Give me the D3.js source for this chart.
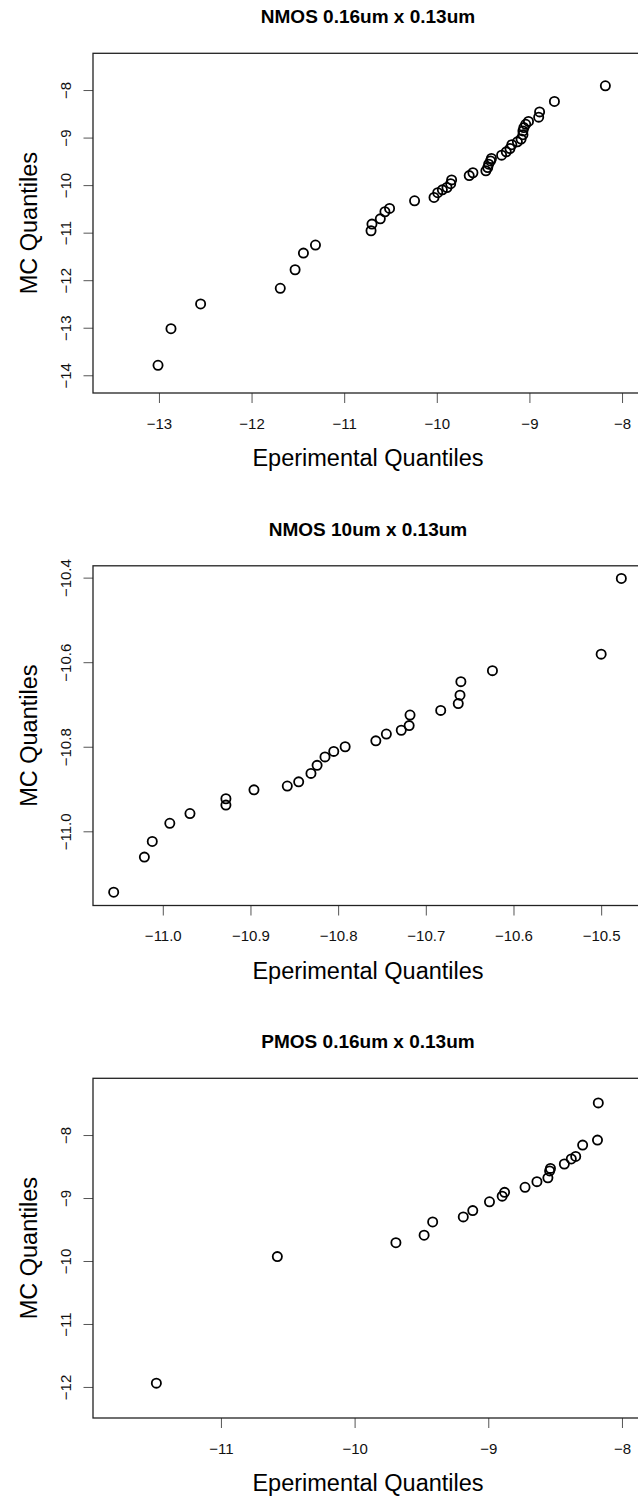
<!DOCTYPE html>
<html>
<head>
<meta charset="UTF-8">
<script src="https://d3js.org/d3.v7.min.js"></script>
<style>
  body { margin: 0; background: #fff; }
  svg { display: block; font-family: "Liberation Sans", Arial, sans-serif; }
</style>
</head>
<body>
<svg></svg>
<script>
// panel titles
const titles = ["NMOS 0.16um x 0.13um", "NMOS 10um x 0.13um", "PMOS 0.16um x 0.13um"];

// NMOS 0.16um x 0.13um : experimental vs MC quantiles
const nmos016X = [-13.01, -12.87, -12.55, -11.69, -11.53, -11.44, -11.31, -10.71, -10.70, -10.61,
  -10.56, -10.51, -10.24, -10.03, -9.99, -9.94, -9.89, -9.85, -9.84, -9.65,
  -9.61, -9.47, -9.45, -9.44, -9.42, -9.41, -9.30, -9.25, -9.21, -9.19,
  -9.13, -9.09, -9.07, -9.07, -9.06, -9.04, -9.01, -8.90, -8.89, -8.73, -8.18];
const nmos016Y = [-13.79, -13.02, -12.50, -12.17, -11.78, -11.43, -11.26, -10.96, -10.82, -10.71,
  -10.56, -10.49, -10.33, -10.26, -10.16, -10.10, -10.05, -9.97, -9.89, -9.80,
  -9.74, -9.70, -9.63, -9.56, -9.49, -9.44, -9.37, -9.30, -9.23, -9.15,
  -9.09, -9.03, -8.94, -8.86, -8.79, -8.72, -8.66, -8.57, -8.46, -8.24, -7.91];

// NMOS 10um x 0.13um
const nmos10X = [-11.056, -11.021, -11.012, -10.992, -10.969, -10.928, -10.928, -10.896, -10.858, -10.845,
  -10.831, -10.824, -10.815, -10.805, -10.792, -10.757, -10.745, -10.728, -10.719, -10.718,
  -10.683, -10.663, -10.661, -10.660, -10.624, -10.500, -10.477];
const nmos10Y = [-11.144, -11.061, -11.024, -10.981, -10.958, -10.923, -10.938, -10.902, -10.893, -10.883,
  -10.863, -10.844, -10.824, -10.811, -10.800, -10.786, -10.770, -10.761, -10.750, -10.725,
  -10.714, -10.698, -10.678, -10.646, -10.620, -10.581, -10.402];

// PMOS 0.16um x 0.13um
const pmos016X = [-11.483, -10.578, -9.691, -9.480, -9.416, -9.187, -9.116, -8.991, -8.896, -8.878,
  -8.725, -8.636, -8.554, -8.541, -8.535, -8.431, -8.379, -8.346, -8.294, -8.183, -8.177];
const pmos016Y = [-11.94, -9.93, -9.71, -9.59, -9.38, -9.30, -9.20, -9.06, -8.97, -8.91,
  -8.83, -8.74, -8.68, -8.57, -8.53, -8.46, -8.38, -8.34, -8.16, -8.08, -7.49];

// axis ticks
const xTicks = [[-13, -12, -11, -10, -9, -8], [-11.0, -10.9, -10.8, -10.7, -10.6, -10.5], [-11, -10, -9, -8]];
const yTicks = [[-14, -13, -12, -11, -10, -9, -8], [-11.0, -10.8, -10.6, -10.4], [-12, -11, -10, -9, -8]];
const xDomains = [[-13.712, -7.806], [-11.0796, -10.4557], [-11.957, -7.865]];
const yDomains = [[-14.373, -7.227], [-11.1755, -10.372], [-12.493, -7.099]];
const tickFmt = [d3.format("d"), d3.format(".1f"), d3.format("d")];

const width = 638, height = 1496;
const svg = d3.select("svg").attr("width", width).attr("height", height);

const left = 93, right = 640, firstTop = 53.3, pitch = 512.5, boxH = 339.7;

const panels = [
  { x: nmos016X, y: nmos016Y },
  { x: nmos10X, y: nmos10Y },
  { x: pmos016X, y: pmos016Y }
];

panels.forEach((p, i) => {
  const top = firstTop + pitch * i, bottom = top + boxH;
  const x = d3.scaleLinear().domain(xDomains[i]).range([left, right]);
  const y = d3.scaleLinear().domain(yDomains[i]).range([bottom, top]);
  const g = svg.append("g");

  // title
  g.append("text")
    .attr("x", 368).attr("y", top - 36.6)
    .attr("text-anchor", "middle").attr("dominant-baseline", "central")
    .style("font-size", "19px").style("font-weight", "bold")
    .text(titles[i]);

  // x axis
  const xa = g.append("g").attr("transform", `translate(0,${bottom})`)
    .call(d3.axisBottom(x).tickValues(xTicks[i]).tickFormat(tickFmt[i]).tickSize(10));
  xa.select(".domain").remove();
  xa.selectAll("line").attr("stroke", "#555");
  xa.selectAll("text").style("font-size", "15px").attr("fill", "#111")
    .attr("dy", null).attr("y", 30).attr("dominant-baseline", "central");

  // y axis (labels rotated, R style)
  const ya = g.append("g").attr("transform", `translate(${left},0)`)
    .call(d3.axisLeft(y).tickValues(yTicks[i]).tickFormat(tickFmt[i]).tickSize(9.5));
  ya.select(".domain").remove();
  ya.selectAll("line").attr("stroke", "#555");
  ya.selectAll("text").style("font-size", "15px").attr("fill", "#111")
    .attr("x", null).attr("dy", null)
    .attr("text-anchor", "middle").attr("dominant-baseline", "central")
    .attr("transform", `translate(${65 - left},0) rotate(-90)`);

  // frame
  g.append("rect")
    .attr("x", left).attr("y", top).attr("width", right - left).attr("height", boxH)
    .attr("fill", "none").attr("stroke", "#222").attr("stroke-width", 1.3);

  // axis titles
  g.append("text")
    .attr("x", 368).attr("y", bottom + 65)
    .attr("text-anchor", "middle").attr("dominant-baseline", "central")
    .style("font-size", "23.5px")
    .text("Eperimental Quantiles");
  g.append("text")
    .attr("transform", `translate(29,${(top + bottom) / 2}) rotate(-90)`)
    .attr("text-anchor", "middle").attr("dominant-baseline", "central")
    .style("font-size", "23.5px")
    .text("MC Quantiles");

  // points
  g.append("g").selectAll("circle")
    .data(p.x.map((v, k) => [v, p.y[k]]))
    .join("circle")
    .attr("cx", d => x(d[0]))
    .attr("cy", d => y(d[1]))
    .attr("r", 4.6)
    .attr("fill", "none")
    .attr("stroke", "#000")
    .attr("stroke-width", 1.8);
});
</script>
</body>
</html>
